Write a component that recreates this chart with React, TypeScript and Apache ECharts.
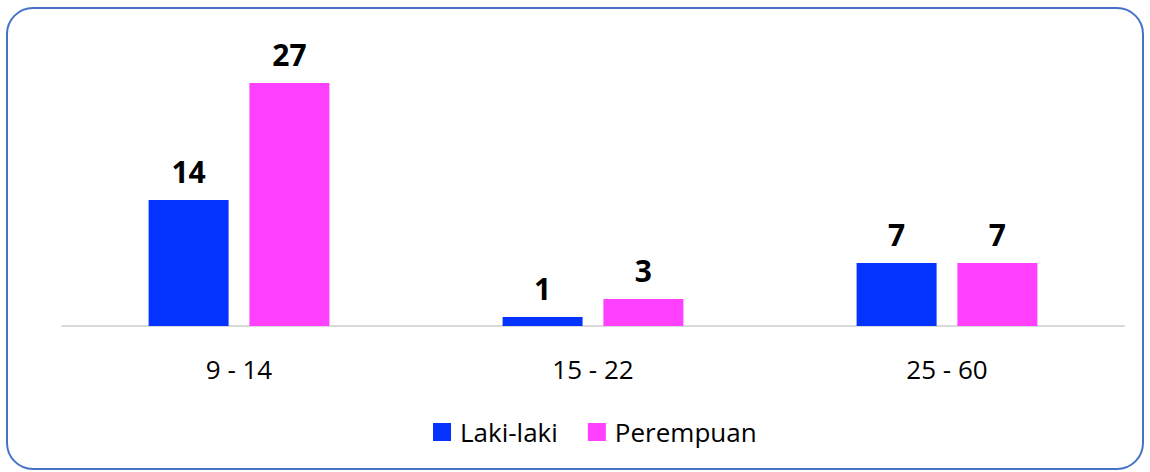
import React, { useEffect, useRef } from "react";
import * as echarts from "echarts";

const categories = ["9 - 14", "15 - 22", "25 - 60"];
const lakiLaki = [14, 1, 7];
const perempuan = [27, 3, 7];
const seriesNames = ["Laki-laki", "Perempuan"];

export default function App() {
  const ref = useRef<HTMLDivElement>(null);
  useEffect(() => {
    if (!ref.current) return;
    const chart = echarts.init(ref.current, undefined, { renderer: "svg" });
    const font = "'Open Sans', 'Noto Sans', sans-serif";
    const labelStyle = {
      show: true,
      position: "top" as const,
      distance: 14,
      color: "#000",
      fontSize: 30,
      fontWeight: "bold" as const,
      fontFamily: font,
    };
    chart.setOption({
      animation: false,
      backgroundColor: "#fff",
      graphic: [
        {
          type: "rect",
          shape: { x: 7, y: 8, width: 1136, height: 461, r: 26 },
          style: { fill: "none", stroke: "#4472C4", lineWidth: 2 },
          silent: true,
        },
      ],
      grid: { left: 62, right: 26, top: 56, bottom: 146 },
      xAxis: {
        type: "category",
        data: categories,
        axisLine: { lineStyle: { color: "#D9D9D9", width: 2 } },
        axisTick: { show: false },
        axisLabel: { color: "#000", fontSize: 26, fontFamily: font, margin: 30 },
      },
      yAxis: {
        type: "value",
        min: 0,
        max: 30,
        show: false,
        splitLine: { show: false },
      },
      legend: {
        left: 428,
        top: 414,
        itemWidth: 18,
        itemHeight: 18,
        itemGap: 30,
        icon: "rect",
        textStyle: { color: "#000", fontSize: 26, fontFamily: font, padding: [0, 0, 0, 4] },
        data: seriesNames,
      },
      series: [
        {
          name: seriesNames[0],
          type: "bar",
          data: lakiLaki,
          barWidth: 80,
          barGap: "26%",
          itemStyle: { color: "#0433FF" },
          label: labelStyle,
        },
        {
          name: seriesNames[1],
          type: "bar",
          data: perempuan,
          barWidth: 80,
          itemStyle: { color: "#FF40FF" },
          label: labelStyle,
        },
      ],
    });
    return () => chart.dispose();
  }, []);
  return (
    <div
      ref={ref}
      style={{ position: "fixed", left: 0, top: 0, width: 1150, height: 472 }}
    />
  );
}
